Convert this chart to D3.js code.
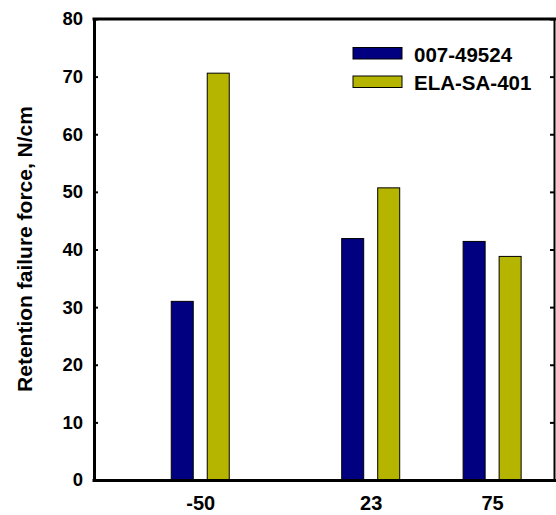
<!DOCTYPE html>
<html><head><meta charset="utf-8">
<script src="https://cdn.jsdelivr.net/npm/d3@7"></script>
<style>
html,body{margin:0;padding:0;background:#fff;}
text{font-family:"Liberation Sans",Arial,sans-serif;font-weight:bold;fill:#000;}
</style></head>
<body>
<svg id="chart" width="556" height="515"></svg>
<script>
const temperatures = [-50, 23, 75];
const seriesNames = ["007-49524", "ELA-SA-401"];
const series1 = [31.0, 41.9, 41.4];
const series2 = [70.6, 50.7, 38.8];
const yTicks = [0, 10, 20, 30, 40, 50, 60, 70, 80];
const colors = ["#000080", "#b5b500"];

const svg = d3.select("#chart");
const L = 94, R = 554, T = 19, B = 480;
const x = d3.scaleLinear().domain([-95.5, 101.5]).range([L, R]);
const y = d3.scaleLinear().domain([0, 80]).range([B, T]);

svg.append("rect").attr("width", 556).attr("height", 515).attr("fill", "#fff");

const barW = 22, off = 18;
const data = [];
temperatures.forEach((t, i) => {
  data.push({t, v: series1[i], s: 0});
  data.push({t, v: series2[i], s: 1});
});
svg.append("g").selectAll("rect").data(data).join("rect")
  .attr("x", d => x(d.t) + (d.s === 0 ? -off : off) - barW / 2)
  .attr("y", d => y(d.v))
  .attr("width", barW)
  .attr("height", d => y(0) - y(d.v))
  .attr("fill", d => colors[d.s])
  .attr("stroke", "#000").attr("stroke-width", 1);

// Left axis
const yAxis = svg.append("g").attr("transform", `translate(${L},0)`)
  .call(d3.axisLeft(y).tickValues(yTicks).tickSizeInner(-4).tickSizeOuter(0).tickPadding(11));
yAxis.select(".domain").attr("stroke-width", 3);
yAxis.selectAll(".tick line").attr("stroke-width", 2);
yAxis.selectAll("text").style("font-size", "18.5px");

// Right axis
const yAxisR = svg.append("g").attr("transform", `translate(${R},0)`)
  .call(d3.axisRight(y).tickValues(yTicks).tickSizeInner(-4).tickSizeOuter(0).tickFormat(""));
yAxisR.select(".domain").attr("stroke-width", 2);
yAxisR.selectAll(".tick line").attr("stroke-width", 2);

// Top line
svg.append("line").attr("x1", L - 1.5).attr("x2", 556).attr("y1", T).attr("y2", T)
  .attr("stroke", "#000").attr("stroke-width", 3);

// Bottom axis
const xAxis = svg.append("g").attr("transform", `translate(0,${B})`)
  .call(d3.axisBottom(x).tickValues(temperatures).tickSize(0).tickPadding(16).tickFormat(d => String(d)));
xAxis.select(".domain").remove();
xAxis.selectAll("text").style("font-size", "20px");
svg.append("line").attr("x1", L - 1.5).attr("x2", 556).attr("y1", B + 0.5).attr("y2", B + 0.5)
  .attr("stroke", "#000").attr("stroke-width", 3);

// Y label
svg.append("text").attr("transform", "translate(32,249) rotate(-90)")
  .attr("text-anchor", "middle").style("font-size", "21px")
  .text("Retention failure force, N/cm");

// Legend
const leg = svg.append("g");
seriesNames.forEach((n, i) => {
  const yy = 47.5 + i * 28.5;
  leg.append("rect").attr("x", 353).attr("y", yy).attr("width", 49).attr("height", 11.5)
    .attr("fill", colors[i]).attr("stroke", "#000").attr("stroke-width", 1);
  leg.append("text").attr("x", 414).attr("y", yy + 14).style("font-size", "20.5px").text(n);
});
</script>
</body></html>
